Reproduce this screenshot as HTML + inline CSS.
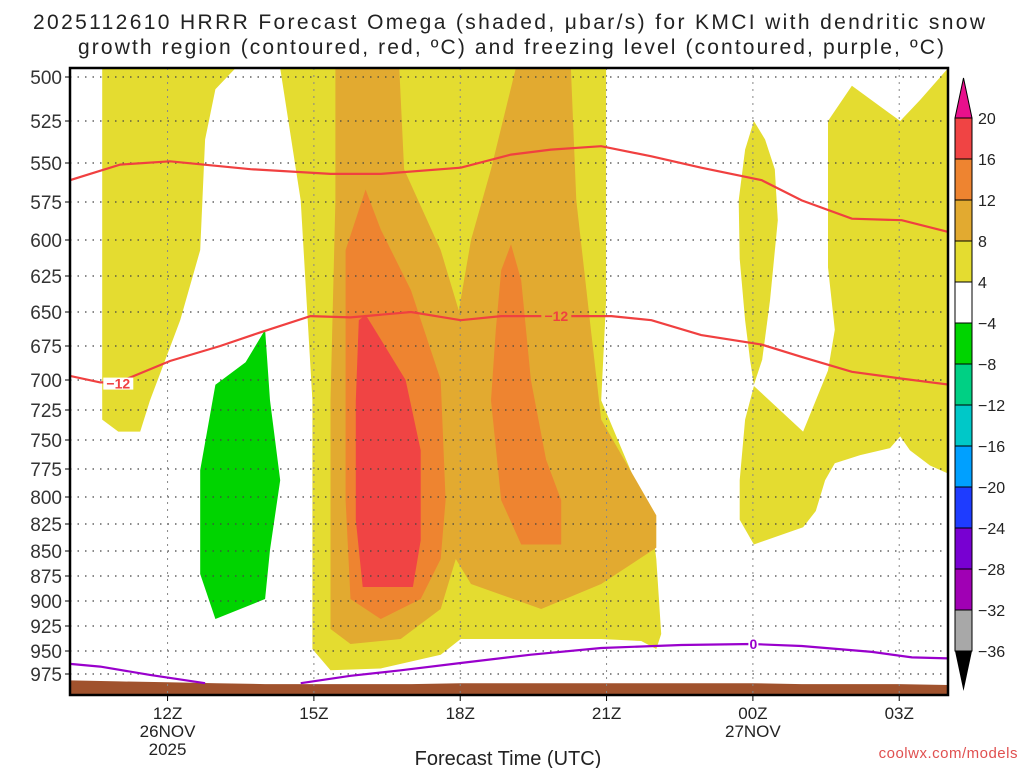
<!DOCTYPE html>
<html><head><meta charset="utf-8"><style>
body{margin:0;background:#fff;width:1024px;height:768px;overflow:hidden}
svg{display:block;font-family:"Liberation Sans","DejaVu Sans",sans-serif}
</style></head><body>
<svg id="chart" width="1024" height="768" viewBox="0 0 1024 768">
<text x="33" y="29" textLength="952" lengthAdjust="spacing" font-size="21" fill="#222">2025112610 HRRR Forecast Omega (shaded, μbar/s) for KMCI with dendritic snow</text>
<text x="78" y="54" textLength="866" lengthAdjust="spacing" font-size="21" fill="#222">growth region (contoured, red, ºC) and freezing level (contoured, purple, ºC)</text>
<g id="plot"></g>
<text x="508" y="765" text-anchor="middle" font-size="20" fill="#222">Forecast Time (UTC)</text>
<text x="1018" y="758" text-anchor="end" font-size="15" fill="#e05050" letter-spacing="0.5">coolwx.com/models</text>
<g id="cbar"></g>
</svg>
<script>
// pressure levels and tick labels
const pLevels=[500,525,550,575,600,625,650,675,700,725,750,775,800,825,850,875,900,925,950,975];
const pLevelY=[77,121,163,202,240,276,312,346,380,410,440,469,497,524,551,576,601,626,651,674];
const timeTicks=[12,15,18,21,24,27];
const timeLabels=[["12Z","26NOV","2025"],["15Z"],["18Z"],["21Z"],["00Z","27NOV"],["03Z"]];
// shaded omega regions: [hour, pressure]
const yellowLeft=[[10.66,495],[13.39,495],[12.98,507],[12.77,536],[12.67,607],[12.26,656],[11.64,717],[11.44,743],[10.99,743],[10.66,733]];
const yellowMain=[[14.31,495],[14.73,574],[14.97,717],[14.97,948],[15.34,971],[16.37,969],[17.6,954],[18.01,938],[20.89,938],[21.71,940],[22.02,948],[22.12,933],[22.02,858],[21.92,821],[20.89,717],[20.99,642],[20.99,495]];
const yellowOval=[[24.02,525],[23.84,542],[23.71,574],[23.73,613],[23.84,656],[23.94,685],[24.02,704],[24.19,685],[24.35,642],[24.51,587],[24.45,554],[24.25,536]];
const yellowRight=[[24.02,705],[25.03,743],[25.54,693],[25.68,663],[25.54,619],[25.54,525],[26.03,505],[27.02,525],[27.43,513],[28.0,495],[28.1,495],[28.1,781],[27.63,772],[27.22,759],[27.02,747],[26.81,757],[26.2,763],[25.68,770],[25.48,785],[25.29,813],[25.03,828],[24.02,844],[23.73,821],[23.73,785],[23.84,733]];
const orange1=[[15.44,495],[16.75,495],[16.85,554],[17.6,607],[17.97,649],[18.22,600],[18.63,554],[19.14,495],[20.27,495],[20.38,574],[20.68,663],[20.89,733],[22.02,817],[22.02,847],[20.89,883],[19.66,908],[18.22,883],[17.91,858],[17.6,908],[16.78,938],[15.75,943],[15.34,928],[15.34,717],[15.44,574]];
const orange2a=[[15.65,607],[16.06,567],[16.37,593],[16.99,635],[17.6,700],[17.7,803],[17.6,858],[17.19,898],[16.37,918],[15.75,898],[15.65,803]];
const orange2b=[[18.84,621],[19.04,603],[19.25,628],[19.45,700],[19.76,767],[20.07,803],[20.07,844],[19.25,844],[18.84,803],[18.63,717],[18.73,663]];
const redFill=[[15.92,656],[16.06,652],[16.37,670],[16.88,700],[17.19,759],[17.19,840],[17.03,886],[16.0,886],[15.86,821],[15.86,717]];
const greenFill=[[14.0,663],[14.1,717],[14.31,785],[14.1,849],[14.0,898],[12.98,918],[12.67,873],[12.67,776],[12.98,704],[13.6,687]];
// contours
const redTop=[[10,561],[10.41,557],[11.03,551],[12.05,549],[13.7,554],[15.34,557],[16.37,557],[18.01,553],[19.04,545],[19.86,542],[20.89,540],[21.92,546],[22.94,553],[24.18,561],[25.0,574],[26.03,586],[27.05,587],[28.04,595]];
const redMid=[[10,697],[10.62,702],[10.99,702],[12.05,686],[13.08,675],[13.9,665],[14.93,653],[15.75,654],[16.99,650],[18.01,656],[18.84,653],[20.07,653],[21.1,653],[21.92,656],[22.94,667],[24.18,674],[25.0,683],[26.03,694],[27.05,699],[28.04,704]];
const purpleA=[[10,964],[10.62,967],[11.64,976],[12.77,985]];
const purpleB=[[14.73,985],[15.75,977],[16.78,971],[18.01,963],[19.45,954],[20.89,947],[22.53,944],[23.97,943],[25.0,945],[26.44,951],[27.26,957],[28.04,958]];
const terrainHours=[10,11,12,13,14,15,16,17,18,19,20,21,22,23,24,25,26,27,28];
const terrainP=[982,983,984,985,986,986,986,986,985,985,985,985,985,985,985,986,986,986,987];
// colorbar
const cbLabels=["20","16","12","8","4","−4","−8","−12","−16","−20","−24","−28","−32","−36"];
const cbColors=["#f04444","#ee8430","#e2aa30","#e4dc30","#ffffff","#00d400","#00d084","#00c8c8","#00a0ff","#1e3cff","#7800d2","#a000b4","#a8a8a8"];

const NS="http://www.w3.org/2000/svg";
const X0=70,X1=948,Y0=68,Y1=695,H0=10,H1=28;
function xs(h){return X0+(h-H0)*(X1-X0)/(H1-H0);}
function ys(p){
  if(p<=pLevels[0]) return pLevelY[0]+(p-pLevels[0])*(pLevelY[1]-pLevelY[0])/25;
  for(let i=1;i<pLevels.length;i++){ if(p<=pLevels[i]){const t=(p-pLevels[i-1])/(pLevels[i]-pLevels[i-1]);return pLevelY[i-1]+t*(pLevelY[i]-pLevelY[i-1]);} }
  const n=pLevels.length;return pLevelY[n-1]+(p-pLevels[n-1])*(pLevelY[n-1]-pLevelY[n-2])/25;
}
function el(tag,attrs,parent){const e=document.createElementNS(NS,tag);for(const k in attrs)e.setAttribute(k,attrs[k]);parent.appendChild(e);return e;}
const plot=document.getElementById('plot');
const defs=el('defs',{},plot);
const cp=el('clipPath',{id:'clip'},defs);
el('rect',{x:X0,y:Y0,width:X1-X0,height:Y1-Y0},cp);
const g=el('g',{'clip-path':'url(#clip)'},plot);
function pts(arr){return arr.map(d=>xs(d[0]).toFixed(1)+','+ys(d[1]).toFixed(1)).join(' ');}
function fill(arr,color,name){const e=el('polygon',{points:pts(arr),fill:color},g);

}
fill(yellowLeft,"#e4dc30","omega-4-8-left");
fill(yellowMain,"#e4dc30","omega-4-8-main");
fill(yellowOval,"#e4dc30","omega-4-8-oval");
fill(yellowRight,"#e4dc30","omega-4-8-right");
fill(orange1,"#e2aa30","omega-8-12");
fill(orange2a,"#ee8430","omega-12-16-left");
fill(orange2b,"#ee8430","omega-12-16-right");
fill(redFill,"#f04444","omega-16-20");
fill(greenFill,"#00d400","omega-neg4-neg8");
// terrain
const tpts=terrainHours.map((h,i)=>[h,terrainP[i]]);
const tpoly=[[terrainHours[0],1010]].concat(tpts,[[terrainHours[terrainHours.length-1],1010]]);
const terr=el('polygon',{points:pts(tpoly),fill:'#a0522d'},g);


// grid
pLevels.forEach((p,i)=>{const y=ys(p);
 const l=el('line',{x1:X0,x2:X1,y1:y,y2:y,stroke:'#444','stroke-width':1.3,'stroke-dasharray':'1.5,6'},g);
 
 
 el('line',{x1:X0-5,x2:X0,y1:y,y2:y,stroke:'#000','stroke-width':1},plot);
 const t=el('text',{x:X0-8,y:y+7,'text-anchor':'end','font-size':19,fill:'#333'},plot);t.textContent=p;
 
 
});
timeTicks.forEach((h,i)=>{const x=xs(h);
 const l=el('line',{x1:x,x2:x,y1:Y0,y2:Y1,stroke:'#888','stroke-width':1,'stroke-dasharray':'2,5'},g);
 
 
 el('line',{x1:x,x2:x,y1:Y1,y2:Y1+6,stroke:'#000','stroke-width':1},plot);
 timeLabels[i].forEach((s,j)=>{const t=el('text',{x:x,y:Y1+24+j*18,'text-anchor':'middle','font-size':17,fill:'#222'},plot);t.textContent=s;
 
 });
});
function line(arr,color,name){const e=el('polyline',{points:pts(arr),fill:'none',stroke:color,'stroke-width':2.2},g);

}
line(redTop,"#f04040","dgz-contour-upper");
line(redMid,"#f04040","dgz-contour-minus12");
line(purpleA,"#9900cc","freezing-level-left");
line(purpleB,"#9900cc","freezing-level-right");
function lab(h,p,s,c,bg,name){const x=xs(h),y=ys(p);
 el('rect',{x:x-s.length*5,y:y-6,width:s.length*10,height:12,fill:bg},g);
 const t=el('text',{x:x,y:y+5,'text-anchor':'middle','font-size':14,'font-weight':'bold',fill:c},g);t.textContent=s;
 
 }
lab(10.99,703,"−12","#f04040","#fff","contour-label-minus12-left");
lab(19.97,653,"−12","#f04040","#e2aa30","contour-label-minus12-right");
lab(24.01,943,"0","#9900cc","#fff","contour-label-zero");
const fr=el('rect',{x:X0,y:Y0,width:X1-X0,height:Y1-Y0,fill:'none',stroke:'#000','stroke-width':2.5},plot);


// colorbar
const cb=document.getElementById('cbar');
const CX0=955,CX1=972,CT=118,CS=41;
el('polygon',{points:`${CX0},${CT} ${CX1},${CT} ${(CX0+CX1)/2},${CT-40}`,fill:'#e8108c',stroke:'#000','stroke-width':1},cb);
cbColors.forEach((c,i)=>{const r=el('rect',{x:CX0,y:CT+i*CS,width:CX1-CX0,height:CS,fill:c,stroke:'#000','stroke-width':1},cb);
 
 });
const cbB=CT+cbColors.length*CS;
el('polygon',{points:`${CX0},${cbB} ${CX1},${cbB} ${(CX0+CX1)/2},${cbB+40}`,fill:'#000'},cb);
cbLabels.forEach((s,i)=>{const t=el('text',{x:978,y:CT+i*CS+6,'font-size':16,fill:'#222'},cb);t.textContent=s;
 
 });
</script>
</body></html>
